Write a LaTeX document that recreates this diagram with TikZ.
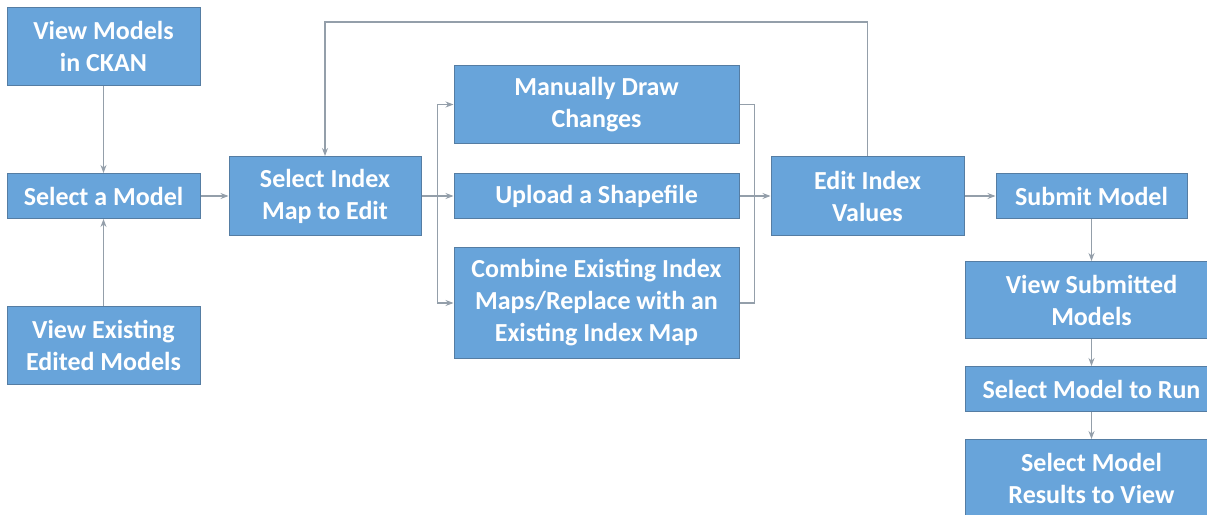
\documentclass[tikz,border=0pt]{standalone}
\usepackage{fontspec}
\setmainfont{Carlito}
\usetikzlibrary{arrows.meta, positioning}

\definecolor{boxfill}{HTML}{68A4DA}
\definecolor{boxedge}{HTML}{557DA3}
\definecolor{linegray}{HTML}{949FAA}
\definecolor{tipblue}{HTML}{7A9CC0}

\begin{document}
\begin{tikzpicture}[
    x=1pt, y=1pt,
    node distance=30pt and 30pt,
    box/.style={rectangle, draw=boxedge, line width=1pt, fill=boxfill, text=white, align=center,
        inner sep=1pt, minimum width=193pt, minimum height=78pt,
        font=\fontsize{26}{32}\selectfont\bfseries},
    shortbox/.style={box, minimum height=45pt},
    arrow/.style={-{Stealth[length=8pt, width=6pt, fill=tipblue]}, draw=linegray, line width=1.1pt},
    line/.style={draw=linegray, line width=1.1pt}
]
\useasboundingbox (0,0) rectangle (1207,-514);

% Left column
\node[shortbox] (model) at (103.5,-196) {Select a Model};
\node[box, above=87pt of model] (ckan) {View Models\\in CKAN};
\node[box, below=87pt of model] (edited) {View Existing\\Edited Models};

% Editing branch
\node[box, minimum width=192pt, minimum height=79pt, right=28pt of model] (indexmap) {Select Index\\Map to Edit};
\node[shortbox, minimum width=285pt, right=32pt of indexmap] (upload) {Upload a Shapefile};
\node[box, minimum width=285pt, above=29pt of upload] (manual) {Manually Draw\\Changes};
\node[box, minimum width=285pt, minimum height=111pt, below=28pt of upload] (combine) {Combine Existing Index\\Maps/Replace with an\\Existing Index Map};
\node[box, minimum height=79pt, right=31pt of upload] (editvals) {Edit Index\\Values};

% Right column
\node[shortbox, minimum width=191pt, right=31pt of editvals] (submit) {Submit Model};
\node[box, minimum width=252pt, minimum height=77pt, below=42pt of submit] (viewsub) {View Submitted\\Models};
\node[shortbox, minimum width=252pt, below=27pt of viewsub] (run) {Select Model to Run};
\node[box, minimum width=252pt, below=27pt of run] (results) {Select Model\\Results to View};

\coordinate[right=16pt of indexmap] (split);
\coordinate[right=15pt of upload] (merge);

% Connections
\draw[arrow] (ckan) -- (model);
\draw[arrow] (edited) -- (model);
\draw[arrow] (model) -- (indexmap);
\draw[arrow] (indexmap) -- (upload);
\draw[arrow] (split) |- (manual);
\draw[arrow] (split) |- (combine);
\draw[line] (manual) -| (merge);
\draw[line] (combine) -| (merge);
\draw[arrow] (upload) -- (editvals);
\draw[arrow] (editvals.north) -- ++(0,134) -| (indexmap.north);
\draw[arrow] (editvals) -- (submit);
\draw[arrow] (submit.south) -- (submit.south |- viewsub.north);
\draw[arrow] (viewsub) -- (run);
\draw[arrow] (run) -- (results);

\end{tikzpicture}
\end{document}
